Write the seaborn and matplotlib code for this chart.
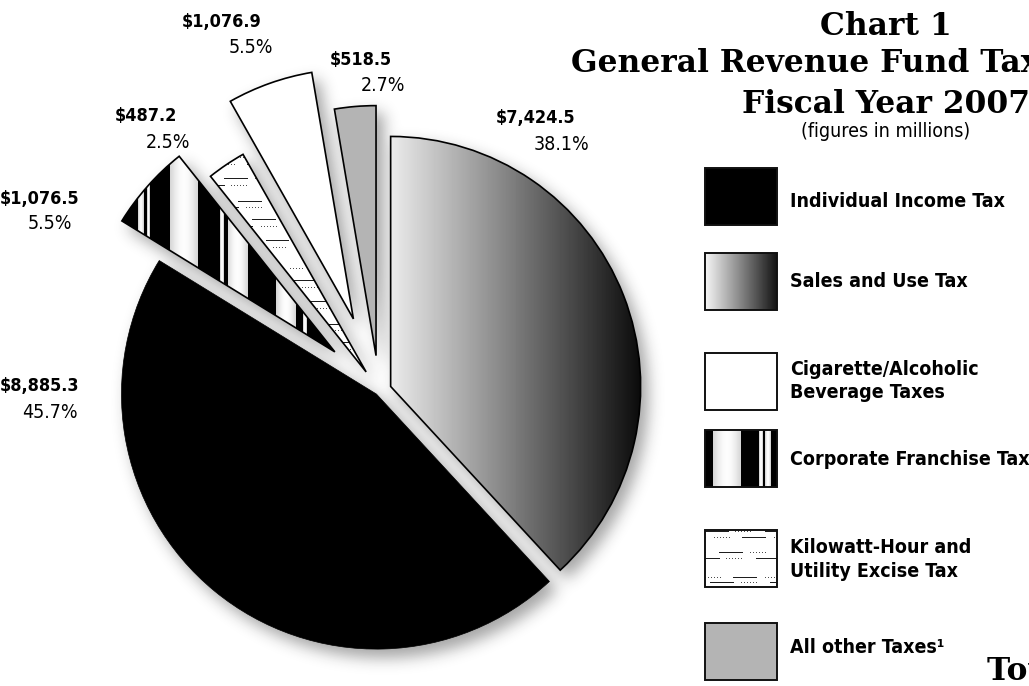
import numpy as np
import matplotlib
matplotlib.use("Agg")
import matplotlib.pyplot as plt
from matplotlib import font_manager as fm
from matplotlib.patches import Rectangle
import seaborn as sns

# ---- data (legend order) -------------------------------------------------
categories = [
    "Individual Income Tax",
    "Sales and Use Tax",
    "Cigarette/Alcoholic\nBeverage Taxes",
    "Corporate Franchise Tax",
    "Kilowatt-Hour and\nUtility Excise Tax",
    "All other Taxes\u00b9",
]
amounts = [8885.3, 7424.5, 1076.9, 1076.5, 487.2, 518.5]   # $ millions
shares = [45.7, 38.1, 5.5, 5.5, 2.5, 2.7]                  # percent of total
pie_order = [1, 0, 3, 4, 2, 5]                             # clockwise from 12 o'clock

# ---- styling ---------------------------------------------------------------
W, H = 1029, 686
sns.set_theme(style="white")
plt.rcParams["font.family"] = ["DejaVu Sans"]

font_names = {f.name for f in fm.fontManager.ttflist}
if "Liberation Sans Narrow" in font_names:
    COND = dict(family="Liberation Sans Narrow")
else:
    COND = dict(family="DejaVu Sans", stretch="condensed")
SERIF = dict(family="DejaVu Serif", weight="bold")

explode = [0.016, 0.05, 0.306, 0.236, 0.092, 0.142]
radius_scale = [1.02, 1.0, 1.0, 1.0, 1.0, 1.0]
faces = ["black", "none", "white", "none", "none", "#b4b4b4"]
R_PX = 250            # pie radius in pixels
CX, CY = 379, 391     # pie centre in pixels (from top-left)
LIM = 1.6


def pie_axes(fig):
    side = 2 * LIM * R_PX
    ax = fig.add_axes([(CX - side / 2) / W, (H - CY - side / 2) / H, side / W, side / H])
    ax.axis("off")
    ax.patch.set_alpha(0)
    return ax


def draw_pie(ax, colors):
    wedges, _ = ax.pie(
        [amounts[i] for i in pie_order],
        explode=[explode[i] for i in pie_order],
        colors=[colors[i] for i in pie_order],
        startangle=90, counterclock=False, radius=1.0,
        wedgeprops=dict(linewidth=1.2, edgecolor="black"),
    )
    ax.set_xlim(-LIM, LIM)
    ax.set_ylim(-LIM, LIM)
    ax.set_aspect("auto")
    out = dict(zip(pie_order, wedges))
    for i, w in out.items():
        w.set_radius(radius_scale[i])
    return out


# ---- texture builders -----------------------------------------------------
def stripes(nx, ny, widths):
    row = np.ones(nx)
    x, k = 0, 0
    while x < nx:
        w = widths[k % len(widths)]
        if k % 2 == 0:
            row[x:x + w] = 0.0
        else:
            seg = row[x:x + w]
            t = np.linspace(0, 1, len(seg)) if len(seg) > 1 else np.array([0.5])
            row[x:x + w] = 0.84 + 0.15 * np.sin(np.pi * t)
        x += w
        k += 1
    return np.tile(row, (ny, 1))


def dash_lines(nx, ny, offsets, period):
    img = np.ones((ny, nx))
    cycle = [("solid", 24), ("gap", 6), ("dot", 18), ("gap", 12)]
    clen = sum(c[1] for c in cycle)
    rows = []
    base = 0
    while base < ny:
        rows += [base + o for o in offsets]
        base += period
    for n, r in enumerate(rows):
        if r >= ny:
            continue
        phase = (n * 23) % clen
        for x in range(nx):
            p = (x + phase) % clen
            acc = 0
            for kind, ln in cycle:
                if p < acc + ln:
                    break
                acc += ln
            if kind == "solid":
                img[r, x] = 0.12
            elif kind == "dot" and x % 3 == 0:
                img[r, x] = 0.3
    return img


def gradient(nx, ny, lo=0.92, hi=0.04):
    return np.tile(np.linspace(lo, hi, nx), (ny, 1))


CORP_STRIPES = [16, 6, 3, 3, 20, 28, 22, 4, 4, 21, 28, 20, 7, 4, 26, 12, 5, 18]
LEG_STRIPES = [8, 28, 18, 4, 2, 6, 6]


def wedge_bbox(w):
    t = np.radians(np.linspace(w.theta1, w.theta2, 300))
    xs = np.r_[w.center[0], w.center[0] + w.r * np.cos(t)]
    ys = np.r_[w.center[1], w.center[1] + w.r * np.sin(t)]
    return xs.min(), xs.max(), ys.min(), ys.max()


def fill_wedge(ax, w, maker):
    x0, x1, y0, y1 = wedge_bbox(w)
    nx = int(np.ceil((x1 - x0) * R_PX)) + 1
    ny = int(np.ceil((y1 - y0) * R_PX)) + 1
    im = ax.imshow(maker(nx, ny), extent=(x0, x1, y0, y1), origin="upper",
                   cmap="gray", vmin=0, vmax=1, interpolation="nearest",
                   aspect="auto", zorder=w.get_zorder() - 0.1)
    im.set_clip_path(w)


# ---- figure -----------------------------------------------------------------
fig = plt.figure(figsize=(W / 100, H / 100), dpi=100, facecolor="white")
sh = fig.add_axes([0, 0, 1, 1])
ax = pie_axes(fig)
ov = fig.add_axes([0, 0, 1, 1])
for a in (sh, ov):
    a.axis("off")
    a.patch.set_alpha(0)

# soft drop shadow: silhouette of the pie, offset and blurred
mfig = plt.figure(figsize=(W / 100, H / 100), dpi=100, facecolor="white")
max_ = pie_axes(mfig)
draw_pie(max_, ["black"] * 6)
mfig.canvas.draw()
sil = 1.0 - np.asarray(mfig.canvas.buffer_rgba())[..., 0].astype(float) / 255.0
plt.close(mfig)
hh, ww = sil.shape
dx, dy = 7, 8
shifted = np.zeros_like(sil)
shifted[dy:, dx:] = sil[:-dy, :-dx]
sigma = 7.5
r = int(3 * sigma)
kern = np.exp(-0.5 * (np.arange(-r, r + 1) / sigma) ** 2)
kern /= kern.sum()
pad = np.pad(shifted, r)
tmp = np.zeros((pad.shape[0], ww))
for i, k in enumerate(kern):
    tmp += k * pad[:, i:i + ww]
blur = np.zeros((hh, ww))
for i, k in enumerate(kern):
    blur += k * tmp[i:i + hh, :]
shadow = np.zeros((hh, ww, 4))
shadow[..., :3] = 0.12
shadow[..., 3] = 0.40 * blur
sh.imshow(shadow, extent=(0, ww, hh, 0), interpolation="nearest", aspect="auto")
sh.set_xlim(0, ww)
sh.set_ylim(hh, 0)

# the pie itself
wedges = draw_pie(ax, faces)
wedges[0].set_linewidth(0.5)
fill_wedge(ax, wedges[1], gradient)
fill_wedge(ax, wedges[3], lambda nx, ny: stripes(nx, ny, CORP_STRIPES))
fill_wedge(ax, wedges[4], lambda nx, ny: dash_lines(nx, ny, [3, 10, 24, 31, 47, 53], 62))
ax.set_xlim(-LIM, LIM)
ax.set_ylim(-LIM, LIM)

# value labels: (left x of amount, baseline), (right x of share, baseline)
label_pos = [
    ((0, 391), (78, 418)),
    ((496, 123), (589, 150)),
    ((182, 27), (273, 53)),
    ((0, 204), (72, 229)),
    ((115, 121), (190, 148)),
    ((330, 65), (405, 91)),
]
for i, ((ax_, ay_), (bx_, by_)) in enumerate(label_pos):
    ov.text(ax_, ay_, f"${amounts[i]:,.1f}", ha="left", va="baseline",
            fontsize=13, fontweight="bold", color="black", **COND)
    ov.text(bx_, by_, f"{shares[i]:.1f}%", ha="right", va="baseline",
            fontsize=14, color="black", **COND)

# legend
LX, LW, LH = 705, 72, 57
leg_tops = [168, 253, 353, 430, 530, 623]
leg_base = [[207], [287], [375, 398], [465], [553, 577], [653]]
for i, top in enumerate(leg_tops):
    ext = (LX, LX + LW, top + LH, top)
    if i == 1:
        ov.imshow(gradient(LW, LH, 0.96, 0.08), extent=ext, cmap="gray", vmin=0, vmax=1,
                  aspect="auto", interpolation="bilinear")
    elif i == 3:
        ov.imshow(stripes(LW, LH, LEG_STRIPES), extent=ext, cmap="gray", vmin=0, vmax=1,
                  aspect="auto", interpolation="nearest")
    elif i == 4:
        ov.imshow(dash_lines(LW, LH, [1, 7, 22, 28, 47, 52], 200), extent=ext, cmap="gray",
                  vmin=0, vmax=1, aspect="auto", interpolation="nearest")
    ov.add_patch(Rectangle((LX, top), LW, LH, facecolor=faces[i], edgecolor="#111111",
                           linewidth=1.4))
    for line, base in zip(categories[i].split("\n"), leg_base[i]):
        ov.text(790, base, line, ha="left", va="baseline", fontsize=14,
                fontweight="bold", color="black", **COND)

# titles
ov.text(886, 35, "Chart 1", ha="center", va="baseline", fontsize=22.5, color="black", **SERIF)
ov.text(886, 72, "General Revenue Fund Tax Receipts", ha="center", va="baseline",
        fontsize=22.5, color="black", **SERIF)
ov.text(886, 113, "Fiscal Year 2007", ha="center", va="baseline", fontsize=22.5,
        color="black", **SERIF)
ov.text(886, 137, "(figures in millions)", ha="center", va="baseline", fontsize=14,
        color="black", **COND)
ov.text(987, 680, f"Total: ${sum(amounts):,.1f}", ha="left", va="baseline", fontsize=22.5,
        color="black", clip_on=False, **SERIF)

ov.set_xlim(0, W)
ov.set_ylim(H, 0)

fig.savefig("out.png", dpi=100, facecolor="white")
